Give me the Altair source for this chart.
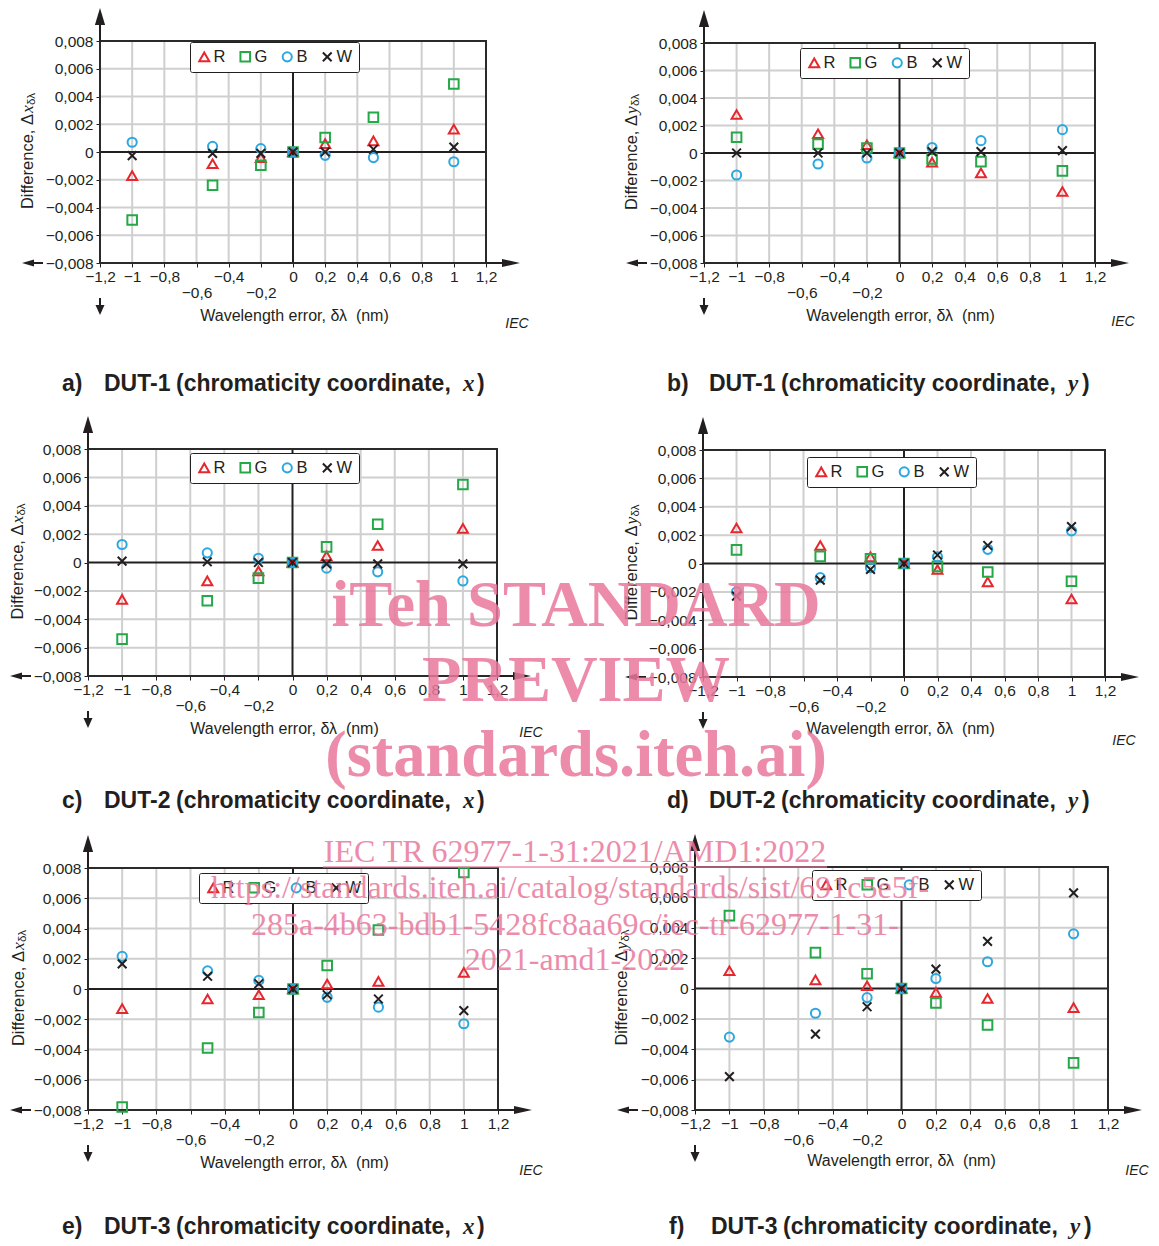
import altair as alt
import pandas as pd

# ---------------- data ----------------
DL = [-1, -0.5, -0.2, 0, 0.2, 0.5, 1]
SERIES = ["R", "G", "B", "W"]

# a) DUT-1, x
A_R = [-0.0017, -0.00085, -0.0004, 0, 0.0006, 0.0008, 0.00165]
A_G = [-0.0049, -0.0024, -0.00095, 0, 0.00105, 0.0025, 0.0049]
A_B = [0.0007, 0.0004, 0.00024, 0, -0.00024, -0.0004, -0.0007]
A_W = [-0.00026, -0.0001, -0.0001, 0, 0, 0.0002, 0.00035]
# b) DUT-1, y
B_R = [0.0028, 0.0014, 0.0006, 0, -0.00067, -0.00145, -0.0028]
B_G = [0.00115, 0.00065, 0.00036, 0, -0.00043, -0.00063, -0.0013]
B_B = [-0.0016, -0.0008, -0.00036, 0, 0.0004, 0.0009, 0.0017]
B_W = [0, 0, 0, 0, 0.0001, 0.0001, 0.00017]
# c) DUT-2, x
C_R = [-0.0026, -0.0013, -0.0006, 0, 0.00047, 0.0012, 0.0024]
C_G = [-0.0054, -0.0027, -0.0011, 0, 0.0011, 0.0027, 0.0055]
C_B = [0.00127, 0.00068, 0.0003, 0, -0.0004, -0.00066, -0.0013]
C_W = [0.0001, 0.00005, 0, 0, -0.0001, -0.0001, -0.0001]
# d) DUT-2, y
D_R = [0.0025, 0.00127, 0.00047, 0, -0.00042, -0.0013, -0.0025]
D_G = [0.00096, 0.0005, 0.00033, 0, -0.0002, -0.0006, -0.00125]
D_B = [-0.002, -0.001, -0.0003, 0, 0.00047, 0.001, 0.0023]
D_W = [-0.0023, -0.00117, -0.00042, 0, 0.0006, 0.00127, 0.0026]
# e) DUT-3, x
E_R = [-0.0013, -0.00066, -0.00038, 0, 0.00033, 0.0005, 0.0011]
E_G = [-0.0078, -0.0039, -0.00155, 0, 0.00155, 0.0039, 0.0077]
E_B = [0.00216, 0.0012, 0.00057, 0, -0.00055, -0.0012, -0.0023]
E_W = [0.00166, 0.00084, 0.00035, 0, -0.00038, -0.00066, -0.00143]
# f) DUT-3, y
F_R = [0.00117, 0.00057, 0.00018, 0, -0.00026, -0.00066, -0.00126]
F_G = [0.0048, 0.00236, 0.00097, 0, -0.00095, -0.0024, -0.0049]
F_B = [-0.0032, -0.00163, -0.0006, 0, 0.00066, 0.00176, 0.0036]
F_W = [-0.0058, -0.003, -0.0012, 0, 0.00128, 0.0031, 0.0063]

X_TICKS = [-1.2, -1, -0.8, -0.6, -0.4, -0.2, 0, 0.2, 0.4, 0.6, 0.8, 1, 1.2]
Y_TICKS = [-0.008, -0.006, -0.004, -0.002, 0, 0.002, 0.004, 0.006, 0.008]
X_GRID = [-1, -0.8, -0.6, -0.4, -0.2, 0.2, 0.4, 0.6, 0.8, 1]
Y_GRID = [-0.006, -0.004, -0.002, 0.002, 0.004, 0.006]

LETTERS = ["a)", "b)", "c)", "d)", "e)", "f)"]
DUTS = ["DUT-1", "DUT-1", "DUT-2", "DUT-2", "DUT-3", "DUT-3"]
COORDS = ["x", "y", "x", "y", "x", "y"]
CAP_MID = "(chromaticity coordinate,"
Y_TITLE_MAIN = "Difference, \u0394"
Y_TITLE_SUB = "\u03b4\u03bb"
X_TITLE = "Wavelength error, \u03b4\u03bb\u00a0 (nm)"

WATERMARK_BIG = ["iTeh STANDARD", "PREVIEW", "(standards.iteh.ai)"]
WATERMARK_SMALL = ["IEC TR 62977-1-31:2021/AMD1:2022",
                   "https://standards.iteh.ai/catalog/standards/sist/691c5e5f-",
                   "285a-4b63-bdb1-5428fc8aa69c/iec-tr-62977-1-31-",
                   "2021-amd1-2022"]

PANEL_VALUES = [(A_R, A_G, A_B, A_W), (B_R, B_G, B_B, B_W), (C_R, C_G, C_B, C_W),
                (D_R, D_G, D_B, D_W), (E_R, E_G, E_B, E_W), (F_R, F_G, F_B, F_W)]

# ---------------- styling / layout ----------------
INK = "#231f20"
GRID = "#cfcfcf"
PINK = "#e9799c"
COLORS = ["#e8262d", "#25a848", "#2ba8e0", "#231f20"]
SHAPES = ["triangle-up", "square", "circle", "M-1,-1L1,1M-1,1L1,-1"]
SIZES = [100, 76, 66, 81]

CELL_W, CELL_H = 571, 410
COL_X = [8, 579]
ROW_Y = [8, 418, 828]
WM_ORIGIN = (8, 1238)

# page-pixel geometry of each panel: plot box, legend corner, IEC, titles, caption
GEOM = [
    dict(col=0, row=0, plot=(100, 41, 486, 263), leg=(190, 42), iec=(517, 324), yt=28, xt=(294, 315), cap=(62, 384)),
    dict(col=1, row=0, plot=(704, 43, 1095, 263), leg=(800, 48), iec=(1123, 322), yt=632, xt=(900, 315), cap=(667, 384)),
    dict(col=0, row=1, plot=(88, 449, 497, 676), leg=(190, 453), iec=(531, 733), yt=18, xt=(284, 728), cap=(62, 801)),
    dict(col=1, row=1, plot=(703, 450, 1105, 677), leg=(807, 457), iec=(1124, 741), yt=632, xt=(900, 728), cap=(667, 801)),
    dict(col=0, row=2, plot=(88, 868, 498, 1110), leg=(199, 873), iec=(531, 1171), yt=19, xt=(294, 1162), cap=(62, 1227)),
    dict(col=1, row=2, plot=(695, 867, 1108, 1110), leg=(812, 870), iec=(1137, 1171), yt=622, xt=(901, 1160), cap=(669, 1227)),
]

CAP_FONT = 23
CAP_OFFSETS = [0, 42, 114, 401, 415]  # letter, DUT, middle words, italic coord, ")"
YT_FONT = 16.5
YT_MAIN_W = 90     # approx. width of "Difference, Δ" at YT_FONT
YT_VAR_W = 8       # italic serif x / y
YT_SPAN = 112

XBASE = "(datum.value == 0 ? '0' : replace(format(datum.value, '.1~f'), '.', ','))"
XLAB = ("(abs(datum.value + 0.6) < 0.01 || abs(datum.value + 0.2) < 0.01) ? ['', "
        + XBASE + "] : " + XBASE)
YLAB = "datum.value == 0 ? '0' : replace(format(datum.value, '.3f'), '.', ',')"

ONE = pd.DataFrame({"k": [0]})

UP = "M0,-1L0.6,1L-0.6,1Z"
RIGHT = "M1,0L-1,-0.45L-1,0.45Z"
LEFT = "M-1,0L1,-0.6L1,0.6Z"
DOWN = "M0,1L-0.9,-1L0.9,-1Z"


def txt(text, x, y, **kw):
    return alt.Chart(ONE).mark_text(text=text, **kw).encode(x=alt.value(x), y=alt.value(y))


def make_panel(i):
    g = GEOM[i]
    cx, cy = COL_X[g["col"]], ROW_Y[g["row"]]
    L, T, R, B = g["plot"]
    x0, y0, x1, y1 = L - cx, T - cy, R - cx, B - cy

    xs = alt.Scale(domain=[-1.2, 1.2], range=[x0, x1], nice=False, zero=False)
    ys = alt.Scale(domain=[-0.008, 0.008], range=[y1, y0], nice=False, zero=False)
    xax = alt.Axis(values=X_TICKS, labelExpr=XLAB, title=X_TITLE, grid=False, domain=False,
                   tickSize=4, tickColor=INK, tickWidth=1, labelColor=INK, labelFontSize=15.5,
                   labelPadding=2, labelFlush=False, labelOverlap=False, labelBound=False,
                   labelLineHeight=16, offset=-(CELL_H - y1),
                   titleX=g["xt"][0] - cx, titleY=g["xt"][1] - B, titleAlign="center",
                   titleBaseline="middle", titleFontSize=16, titleFontWeight="normal",
                   titleColor=INK)
    yax = alt.Axis(values=Y_TICKS, labelExpr=YLAB, title=None, grid=False, domain=False,
                   tickSize=4, tickColor=INK, tickWidth=1, labelColor=INK, labelFontSize=15.5,
                   labelPadding=3, labelFlush=False, labelOverlap=False, labelBound=False,
                   offset=-x0)

    def X(v):
        return alt.XDatum(v, scale=xs, axis=xax)

    def Y(v):
        return alt.YDatum(v, scale=ys, axis=yax)

    layers = []
    layers.append(alt.Chart(pd.DataFrame({"dl": X_GRID})).mark_rule(color=GRID, strokeWidth=2).encode(
        x=alt.X("dl:Q", scale=xs, axis=xax), y=Y(-0.008), y2=alt.Y2Datum(0.008)))
    layers.append(alt.Chart(pd.DataFrame({"d": Y_GRID})).mark_rule(color=GRID, strokeWidth=2).encode(
        y=alt.Y("d:Q", scale=ys, axis=yax), x=X(-1.2), x2=alt.X2Datum(1.2)))
    layers.append(alt.Chart(ONE).mark_rule(color=INK, strokeWidth=2).encode(
        x=X(0), y=Y(-0.008), y2=alt.Y2Datum(0.008)))
    layers.append(alt.Chart(ONE).mark_rule(color=INK, strokeWidth=2).encode(
        y=Y(0), x=X(-1.2), x2=alt.X2Datum(1.2)))
    layers.append(alt.Chart(ONE).mark_rect(fill="transparent", stroke="#2a2a2a", strokeWidth=2).encode(
        x=X(-1.2), x2=alt.X2Datum(1.2), y=Y(-0.008), y2=alt.Y2Datum(0.008)))

    # axis arrows
    layers.append(alt.Chart(ONE).mark_rule(color=INK, strokeWidth=2).encode(
        x=alt.value(x0), y=alt.value(y0 - 17), y2=alt.value(y0)))
    layers.append(alt.Chart(ONE).mark_point(shape=UP, filled=True, size=289, color=INK, opacity=1).encode(
        x=alt.value(x0), y=alt.value(y0 - 24.5)))
    layers.append(alt.Chart(ONE).mark_rule(color=INK, strokeWidth=2).encode(
        x=alt.value(x1), x2=alt.value(x1 + 17), y=alt.value(y1)))
    layers.append(alt.Chart(ONE).mark_point(shape=RIGHT, filled=True, size=324, color=INK, opacity=1).encode(
        x=alt.value(x1 + 25), y=alt.value(y1)))
    layers.append(alt.Chart(ONE).mark_rule(color=INK, strokeWidth=2).encode(
        x=alt.value(x0 - 67), x2=alt.value(x0 - 57), y=alt.value(y1)))
    layers.append(alt.Chart(ONE).mark_point(shape=LEFT, filled=True, size=144, color=INK, opacity=1).encode(
        x=alt.value(x0 - 72), y=alt.value(y1)))
    layers.append(alt.Chart(ONE).mark_rule(color=INK, strokeWidth=2).encode(
        x=alt.value(x0), y=alt.value(y1 + 35), y2=alt.value(y1 + 43)))
    layers.append(alt.Chart(ONE).mark_point(shape=DOWN, filled=True, size=100, color=INK, opacity=1).encode(
        x=alt.value(x0), y=alt.value(y1 + 47)))

    # data points
    vals = PANEL_VALUES[i]
    df = pd.DataFrame({
        "dl": DL * 4,
        "d": list(vals[0]) + list(vals[1]) + list(vals[2]) + list(vals[3]),
        "s": sum([[s] * len(DL) for s in SERIES], []),
    })
    leg = alt.Legend(orient="none", legendX=g["leg"][0] - cx, legendY=g["leg"][1] - cy,
                     direction="horizontal", title=None, strokeColor=INK, fillColor="white",
                     padding=6, cornerRadius=2, symbolSize=80, symbolStrokeWidth=2,
                     labelFontSize=16.5, labelOffset=1, columnPadding=10, labelColor=INK)
    layers.append(alt.Chart(df).mark_point(filled=False, strokeWidth=2, opacity=1).encode(
        x=alt.X("dl:Q", scale=xs, axis=xax),
        y=alt.Y("d:Q", scale=ys, axis=yax),
        color=alt.Color("s:N", scale=alt.Scale(domain=SERIES, range=COLORS), legend=leg),
        shape=alt.Shape("s:N", scale=alt.Scale(domain=SERIES, range=SHAPES), legend=leg),
        size=alt.Size("s:N", scale=alt.Scale(domain=SERIES, range=SIZES), legend=None),
    ))

    # y axis title: "Difference, Δ" + italic x/y + subscript δλ, rotated
    tx = g["yt"] - cx
    mid = (y0 + y1) / 2 - 4
    anchor = mid + YT_SPAN / 2 - YT_MAIN_W
    layers.append(txt(Y_TITLE_MAIN, tx, anchor, angle=270, align="right", baseline="middle",
                      fontSize=YT_FONT, color=INK))
    layers.append(txt(COORDS[i], tx, anchor - 1, angle=270, align="left", baseline="middle",
                      fontSize=YT_FONT + 1, fontStyle="italic", font="Liberation Serif", color=INK))
    layers.append(txt(Y_TITLE_SUB, tx, anchor - YT_VAR_W - 1, angle=270, align="left",
                      baseline="middle", dy=4, fontSize=11.5, color=INK))

    # IEC mark
    layers.append(txt("IEC", g["iec"][0] - cx, g["iec"][1] - cy, fontStyle="italic", fontSize=14,
                      color=INK, align="center", baseline="middle"))

    # caption
    capx, capy = g["cap"][0] - cx, g["cap"][1] - cy
    for w, o in zip([LETTERS[i], DUTS[i], CAP_MID], CAP_OFFSETS[:3]):
        layers.append(txt(w, capx + o, capy, fontSize=CAP_FONT, fontWeight="bold", color=INK,
                          align="left", baseline="middle"))
    layers.append(txt(COORDS[i], capx + CAP_OFFSETS[3], capy, fontSize=CAP_FONT, fontWeight="bold",
                      fontStyle="italic", font="Liberation Serif", color=INK, align="left",
                      baseline="middle"))
    layers.append(txt(")", capx + CAP_OFFSETS[4], capy, fontSize=CAP_FONT, fontWeight="bold",
                      color=INK, align="left", baseline="middle"))

    return alt.layer(*layers).properties(width=CELL_W, height=CELL_H)


def make_watermark():
    ox, oy = WM_ORIGIN
    layers = []
    for t, yy in zip(WATERMARK_BIG, [607, 682, 757]):
        layers.append(txt(t, 576 - ox, yy - oy, font="Liberation Serif", fontWeight="bold",
                          fontSize=64.5, color=PINK, opacity=0.85, align="center", baseline="middle"))
    for t, (xx, yy) in zip(WATERMARK_SMALL, [(575, 852), (570, 888), (575, 925), (575, 960)]):
        layers.append(txt(t, xx - ox, yy - oy, font="Liberation Serif", fontSize=32,
                          color=PINK, opacity=0.85, align="center", baseline="middle"))
    layers.append(alt.Chart(ONE).mark_rule(color=PINK, strokeWidth=1.5, opacity=0.85).encode(
        x=alt.value(323 - ox), x2=alt.value(827 - ox), y=alt.value(867 - oy)))
    return alt.layer(*layers).properties(width=CELL_W, height=1)


panels = [make_panel(i) for i in range(6)] + [make_watermark()]

chart = alt.concat(*panels, columns=2, spacing=0, bounds="flush", align="each").resolve_scale(
    color="independent", shape="independent", size="independent"
).resolve_legend(color="independent", shape="independent").properties(
    padding=0, background="white"
).configure(font="Liberation Sans").configure_view(stroke=None)

chart.save("out.html", embed_options={"renderer": "svg", "actions": False})
